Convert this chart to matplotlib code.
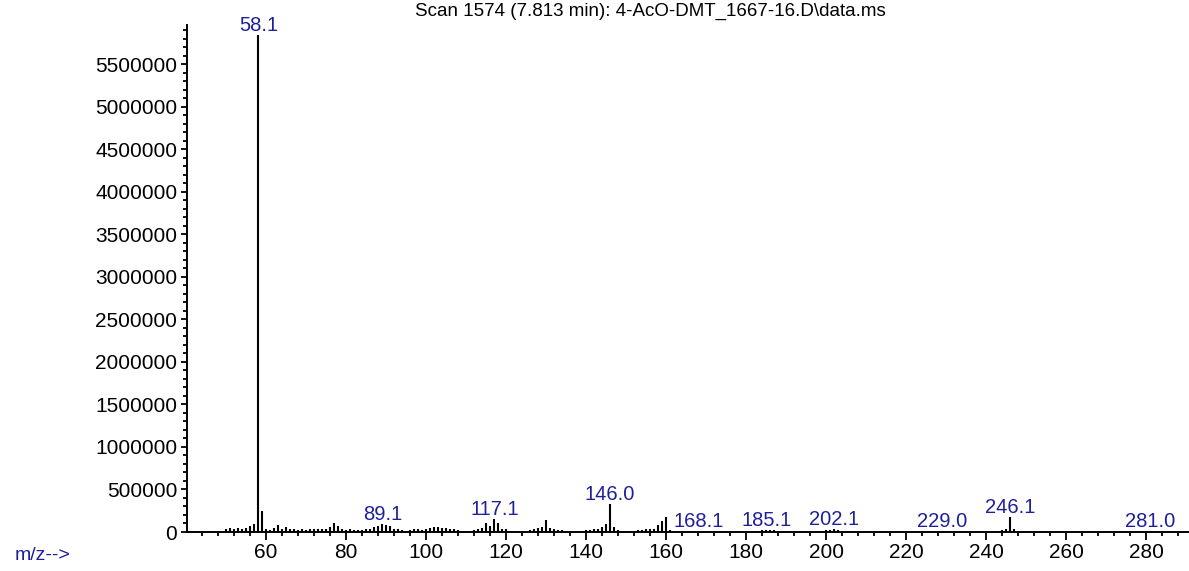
import matplotlib
matplotlib.use("Agg")
import matplotlib.pyplot as plt
from matplotlib.ticker import MultipleLocator, FixedLocator

plt.rcParams['font.family'] = ['Liberation Sans', 'DejaVu Sans']

title = "Scan 1574 (7.813 min): 4-AcO-DMT_1667-16.D\\data.ms"

mz = [50, 51, 52, 53, 54, 55, 56, 57, 58, 59, 60, 61, 62, 63, 64, 65, 66, 67, 68, 69,
      70, 71, 72, 73, 74, 75, 76, 77, 78, 79, 80, 81, 82, 83, 84, 85, 86, 87, 88, 89,
      90, 91, 92, 93, 94, 96, 97, 98, 99, 100, 101, 102, 103, 104, 105, 106, 107, 108,
      112, 113, 114, 115, 116, 117, 118, 119, 120, 126, 127, 128, 129, 130, 131, 132,
      133, 134, 140, 141, 142, 143, 144, 145, 146, 147, 148, 153, 154, 155, 156, 157,
      158, 159, 160, 161, 168, 183, 184, 185, 186, 187, 188, 199, 200, 201, 202, 203,
      204, 229, 243, 244, 245, 246, 247, 248, 281]
abundance = [35000, 45000, 30000, 45000, 35000, 50000, 70000, 95000, 5840000, 250000,
             30000, 25000, 45000, 80000, 35000, 55000, 30000, 35000, 25000, 35000,
             25000, 30000, 30000, 35000, 40000, 40000, 55000, 110000, 70000, 40000,
             20000, 30000, 20000, 25000, 20000, 30000, 40000, 55000, 75000, 95000,
             80000, 70000, 35000, 30000, 20000, 25000, 30000, 35000, 25000, 35000,
             45000, 55000, 60000, 50000, 45000, 35000, 30000, 25000,
             20000, 40000, 50000, 110000, 70000, 150000, 100000, 40000, 30000,
             20000, 30000, 45000, 60000, 145000, 50000, 40000, 25000, 20000,
             20000, 25000, 30000, 35000, 60000, 90000, 330000, 60000, 25000,
             20000, 25000, 30000, 35000, 40000, 80000, 130000, 175000, 20000,
             12000, 15000, 20000, 25000, 20000, 20000, 15000, 15000, 20000, 25000,
             35000, 25000, 15000, 10000, 15000, 25000, 40000, 175000, 30000, 15000,
             8000]

label_mz = [58.1, 89.1, 117.1, 146.0, 168.1, 185.1, 202.1, 229.0, 246.1, 281.0]
label_text = ["58.1", "89.1", "117.1", "146.0", "168.1", "185.1", "202.1", "229.0",
              "246.1", "281.0"]

W, H = 1189, 571
fig = plt.figure(figsize=(W / 100, H / 100), dpi=100)
ax = fig.add_axes([187 / W, (H - 532) / H, (1188 - 187) / W, (532 - 25) / H])

ax.vlines(mz, 0, abundance, colors='black', linewidth=1.5)

blue = '#1f1f99'
for lm, lt in zip(label_mz, label_text):
    near = [a for m, a in zip(mz, abundance) if abs(m - lm) <= 0.6]
    h = max(near) if near else 0
    ax.annotate(lt, xy=(lm, h), xytext=(0, 4), textcoords='offset pixels',
                ha='center', va='baseline', color=blue, fontsize=14.5)

ax.set_xlim(40.25, 290.5)
ax.set_ylim(0, 5.96e6)

for s in ['top', 'right']:
    ax.spines[s].set_visible(False)
for s in ['left', 'bottom']:
    ax.spines[s].set_linewidth(1.4)

ax.xaxis.set_major_locator(FixedLocator(list(range(60, 281, 20))))
ax.xaxis.set_minor_locator(MultipleLocator(4))
ax.yaxis.set_major_locator(MultipleLocator(500000))
ax.yaxis.set_minor_locator(MultipleLocator(100000))
ax.ticklabel_format(axis='y', style='plain', useOffset=False)

ax.tick_params(axis='x', which='major', direction='out', length=6, width=1.3,
               labelsize=15, pad=2)
ax.tick_params(axis='x', which='minor', direction='out', length=3, width=1.3)
ax.tick_params(axis='y', which='major', direction='out', length=4, width=1.3,
               labelsize=15, pad=3)
ax.tick_params(axis='y', which='minor', direction='out', length=3, width=1.3)

fig.text(650 / W, 1 - 11 / H, title, ha='center', va='center', fontsize=13.5)
fig.text(15 / W, 1 - 556 / H, "m/z-->", ha='left', va='center', fontsize=14,
         color=blue)

fig.savefig("out.png", dpi=100)
